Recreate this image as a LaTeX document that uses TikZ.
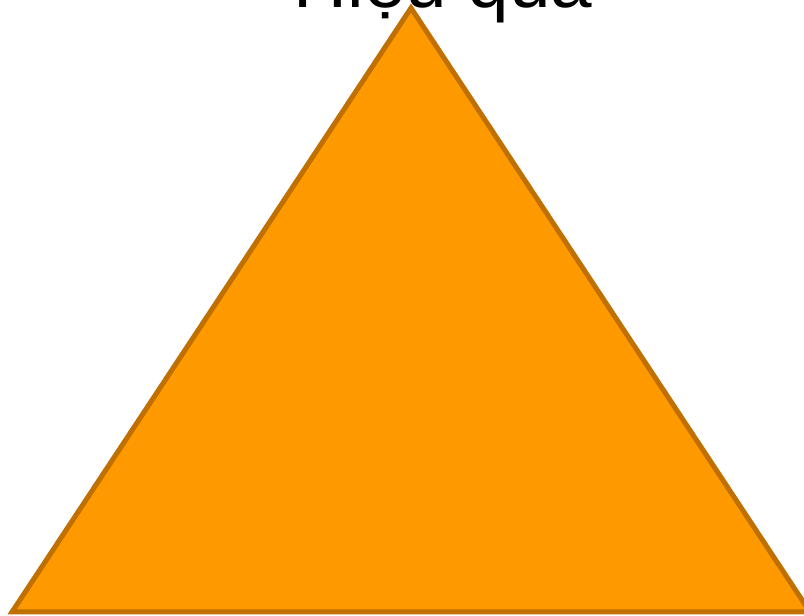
\documentclass[tikz,border=0pt]{standalone}
\usepackage{fontspec}
\setmainfont{Liberation Sans}
\usepackage{xcolor}
\usetikzlibrary{positioning}
\definecolor{pyrfill}{RGB}{255,153,0}
\definecolor{pyredge}{RGB}{192,112,0}
\tikzset{
  pyramid/.style = {draw=pyredge, fill=pyrfill, line width=3.75pt, line join=miter},
  toplabel/.style = {anchor=base, inner sep=0pt, font=\fontsize{56}{60}\selectfont},
}

\begin{document}
\begin{tikzpicture}[x=0.75pt, y=-0.75pt]

%── frame: 804 x 616 px ───────────────────────────────
\useasboundingbox (0,0) rectangle (804,616);
\clip (0,0) rectangle (804,616);

% triangle corners
\coordinate (apex)  at (411,  8);
\coordinate (left)  at ( 12,612);
\coordinate (right) at (810,612);

\draw[pyramid] (apex) -- (left) -- (right) -- cycle;

% title, cut by the top edge
\node[toplabel] (title) at (443,8) {Hiệu quả};

\end{tikzpicture}
\end{document}
